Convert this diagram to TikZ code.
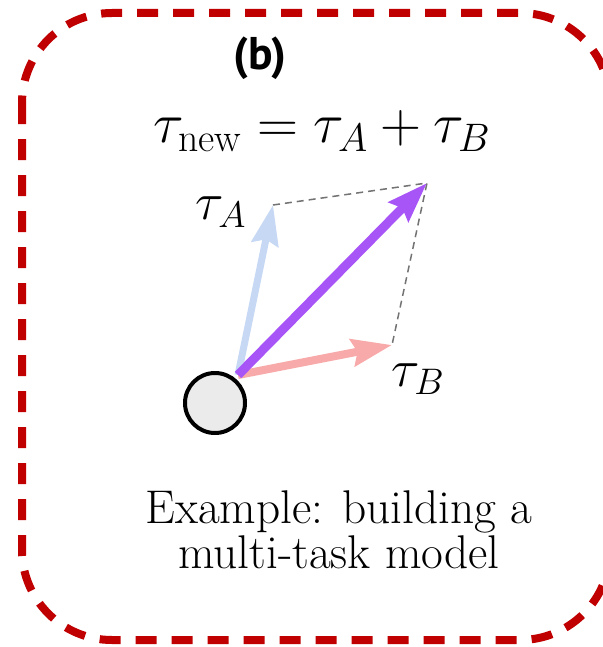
\RequirePackage{fix-cm}
\documentclass[tikz,border=0pt]{standalone}
\usepackage{amsmath}
\usepackage{fontspec}
\newfontfamily\panelfont{PT Sans}
\usepackage{tikz}
\usetikzlibrary{arrows.meta}

\definecolor{boxred}{HTML}{C00000}
\definecolor{vecA}{HTML}{C6D8F4}
\definecolor{vecB}{HTML}{F8A9A9}
\definecolor{vecnew}{HTML}{A855F7}

\begin{document}
\begin{tikzpicture}[
  x=1bp, y=-1bp,
  font=\fontsize{47.5}{46}\selectfont,
  panel/.style={draw=boxred, line width=8bp, dash pattern=on 21bp off 15bp,
    rounded corners=90bp},
  vec/.style={line width=7bp, -{Stealth[length=40bp, width=27bp, inset=5bp]}},
  guide/.style={draw=black!55, line width=1.5bp, dash pattern=on 7bp off 5bp},
  lbl/.style={inner sep=0pt},
  mathlbl/.style={inner sep=0pt, font=\fontsize{53}{55}\selectfont},
]
  \useasboundingbox (0,0) rectangle (603,647);

  % dashed frame (cut on the right)
  \draw[panel] (22,13) rectangle (610,640);

  % title and formula
  \node[lbl, font=\fontsize{46}{46}\selectfont] (title) at (260,58)
    {\panelfont\bfseries (b)};
  \node[lbl, anchor=base, font=\fontsize{57}{57}\selectfont] (sum) at (322,143)
    {$\tau_{\text{new}} = \tau_A + \tau_B$};

  % vectors
  \coordinate (o) at (238,375);
  \coordinate (tipA) at (273,205);
  \coordinate (tipB) at (392,345);
  \coordinate (tipnew) at (427,183);
  \draw[guide] (tipA) -- (tipnew) -- (tipB);
  \draw[vec, vecA] (o) -- (tipA);
  \draw[vec, vecB, line width=8bp] (o) -- (tipB);
  \draw[vec, vecnew, line width=9bp] (o) -- (tipnew);

  \node[mathlbl] (labA) at (221,212) {$\tau_A$};
  \node[mathlbl] (labB) at (418,379) {$\tau_B$};

  % model
  \node[draw, circle, line width=4bp, fill=black!8, minimum size=60bp,
    inner sep=0pt] (model) at (215,403) {};

  % caption
  \node[lbl, align=center, anchor=north] (caption) at (339,490)
    {Example: building a\\multi-task model};
\end{tikzpicture}
\end{document}
